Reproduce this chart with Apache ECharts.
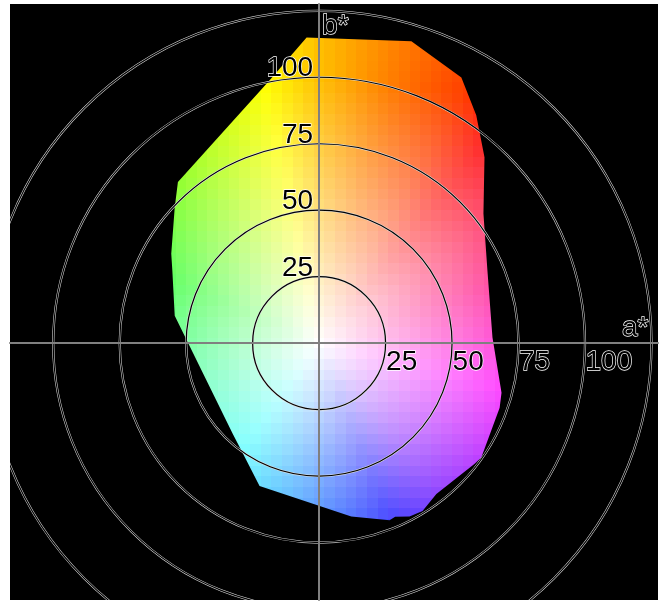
<!DOCTYPE html>
<html><head><meta charset="utf-8">
<style>html,body{margin:0;padding:0;background:#fff}#c{width:660px;height:602px}</style>
<script src="https://cdn.jsdelivr.net/npm/echarts@6/dist/echarts.min.js"></script>
</head><body><div id="c"></div>
<script>
// gamut outline [a*, b*]
const gamutOutline = [[-4.7,114.7],[34.7,113.3],[53.5,99.7],[59.1,85.5],[62.2,69.8],[61.8,48.7],[63.3,27.3],[65.2,2.1],[68.6,-18.6],[67.9,-24.2],[61.0,-42.9],[58.5,-45.3],[44.1,-56.6],[38.9,-63.0],[34.0,-65.1],[28.6,-65.2],[26.5,-66.5],[12.1,-65.1],[-22.4,-53.6],[-28.6,-41.5],[-32.5,-34.0],[-54.3,10.3],[-55.2,27.3],[-55.6,33.6],[-54.3,50.9],[-53.1,60.5],[-18.6,98.7]];
// patch centres
const cellA = [-56,-52,-48,-44,-40,-36,-32,-28,-24,-20,-16,-12,-8,-4,0,4,8,12,16,20,24,28,32,36,40,44,48,52,56,60,64,68];
const cellB = [116,112,108,104,100,96,92,88,84,80,76,72,68,64,60,56,52,48,44,40,36,32,28,24,20,16,12,8,4,0,-4,-8,-12,-16,-20,-24,-28,-32,-36,-40,-44,-48,-52,-56,-60,-64,-68];
// at each direction: [direction deg, hue deg, chroma of full saturation]
const hueStops = [[-180,138,100],[-126,180,100],[-68,240,100],[-51,265,100],[-14,300,100],[18,330,100],[35,345,112],[50,360,116],[60,375,108],[75,390,100],[90,405,100],[102,420,100],[157,480,100],[180,498,100]];
const ringValues = [25,50,75,100,125];
const aTicks = [25,50,75,100];
const bTicks = [25,50,75,100];
const aTitle = 'a*', bTitle = 'b*';
const aRange = [-116.25,127.45], bRange = [-96.4,127.3];
const FONT = '28px "Liberation Sans", Arial, sans-serif';
const GREY = '#808080';

function cellColor(a,b){
  const ang = Math.atan2(b,a)*180/Math.PI;
  let h = 0, full = 100;
  for(let i=0;i<hueStops.length-1;i++){
    const p=hueStops[i],q=hueStops[i+1];
    if(ang>=p[0]&&ang<=q[0]){const t=(ang-p[0])/(q[0]-p[0]);h=p[1]+(q[1]-p[1])*t;full=p[2]+(q[2]-p[2])*t;break;}
  }
  h=((h%360)+360)%360;
  const s=Math.min(1,Math.hypot(a,b)/full);
  const f=n=>{const k=(n+h/60)%6;return Math.round(255*(1-s*Math.max(0,Math.min(k,4-k,1))));};
  return 'rgb('+f(5)+','+f(3)+','+f(1)+')';
}
const cells=[];
cellB.forEach(b=>cellA.forEach(a=>cells.push([a,b])));

const chart = echarts.init(document.getElementById('c'),null,{renderer:'canvas'});
const outlined=(txt,x,y,align)=>({type:'group',children:[
  {type:'text',style:{x,y,text:txt,font:FONT,fill:'#fff',stroke:'#fff',lineWidth:1.3,align:align,verticalAlign:'top'}},
  {type:'text',style:{x,y,text:txt,font:FONT,fill:'#000',align:align,verticalAlign:'top'}}
]});
chart.setOption({
  animation:false,
  backgroundColor:'#fff',
  grid:{left:10,top:4,width:648,height:596,show:true,backgroundColor:'#000',borderWidth:0},
  tooltip:{show:false},
  xAxis:{type:'value',min:aRange[0],max:aRange[1],z:5,axisLine:{onZero:true,lineStyle:{color:GREY,width:2}},axisTick:{show:false},axisLabel:{show:false},splitLine:{show:false}},
  yAxis:{type:'value',min:bRange[0],max:bRange[1],z:5,axisLine:{onZero:true,lineStyle:{color:GREY,width:2}},axisTick:{show:false},axisLabel:{show:false},splitLine:{show:false}},
  series:[
   {type:'custom',z:1,clip:true,silent:true,data:cells,encode:{x:0,y:1},
    renderItem(p,api){
      const a=api.value(0),b=api.value(1);
      const c0=api.coord([a-2,b+2]),c1=api.coord([a+2,b-2]);
      const x0=Math.round(c0[0]),y0=Math.round(c0[1]),x1=Math.round(c1[0]),y1=Math.round(c1[1]);
      return {type:'rect',shape:{x:x0,y:y0,width:x1-x0,height:y1-y0},style:{fill:cellColor(a,b)}};
    }},
   {type:'custom',z:2,clip:true,silent:true,data:[[0,0]],encode:{x:0,y:1},
    renderItem(p,api){
      const pts=[[gamutOutline[0][0],bRange[1]]].concat(gamutOutline,[gamutOutline[0]],[[gamutOutline[0][0],bRange[1]]],
        [[aRange[0],bRange[1]],[aRange[0],bRange[0]],[aRange[1],bRange[0]],[aRange[1],bRange[1]]]);
      return {type:'polygon',shape:{points:pts.map(q=>api.coord(q))},style:{fill:'#000'}};
    }},
   {type:'custom',z:3,clip:true,silent:true,data:ringValues.map(r=>[r]),encode:{x:0},
    renderItem(p,api){
      const r=api.value(0),c=api.coord([0,0]),rad=api.size([r,0])[0];
      return {type:'group',children:[
        {type:'circle',shape:{cx:c[0],cy:c[1],r:rad},style:{fill:'none',stroke:'#e0e0e0',lineWidth:2.2}},
        {type:'circle',shape:{cx:c[0],cy:c[1],r:rad},style:{fill:'none',stroke:'#000',lineWidth:1.2}}
      ]};
    }},
   {type:'custom',z:6,clip:false,silent:true,data:aTicks.map(v=>[v,0]),encode:{x:0,y:1},
    renderItem(p,api){const c=api.coord([api.value(0),0]);return outlined(String(api.value(0)),c[0]+0.5,c[1]+5.5,'left');}},
   {type:'custom',z:6,clip:false,silent:true,data:bTicks.map(v=>[0,v]),encode:{x:0,y:1},
    renderItem(p,api){const c=api.coord([0,api.value(1)]);return outlined(String(api.value(1)),c[0]-6,c[1]-22.5,'right');}},
   {type:'custom',z:6,clip:false,silent:true,data:[[127.45,0,aTitle],[0,127.3,bTitle]],encode:{x:0,y:1},
    renderItem(p,api){
      const c=api.coord([api.value(0),api.value(1)]);
      const isA=p.dataIndex===0;
      return outlined(isA?aTitle:bTitle,isA?c[0]-36:c[0]+3,isA?c[1]-28.5:c[1]+8,'left');
    }}
  ]
});
</script></body></html>
